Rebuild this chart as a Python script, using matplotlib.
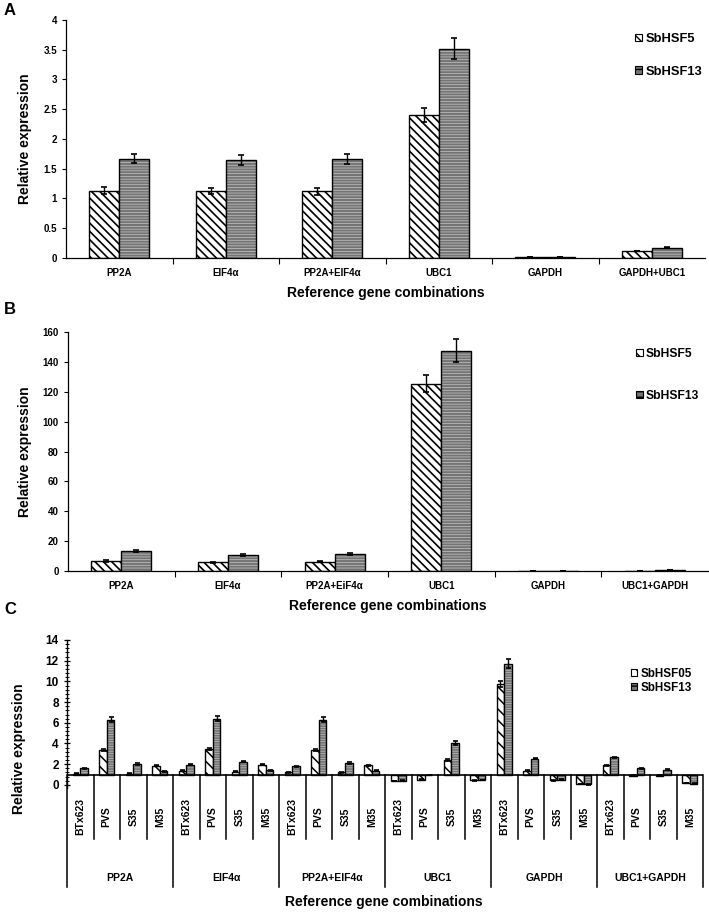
import matplotlib
matplotlib.use("Agg")
import matplotlib.pyplot as plt
import numpy as np
from matplotlib.patches import Patch
from matplotlib.ticker import MultipleLocator, FixedLocator

plt.rcParams['font.family'] = ['Liberation Sans', 'DejaVu Sans']
plt.rcParams['font.weight'] = 'bold'

# ---------------- data ----------------
cats_A = ['PP2A', 'EIF4α', 'PP2A+EIF4α', 'UBC1', 'GAPDH', 'GAPDH+UBC1']
hsf5_A = [1.13, 1.12, 1.12, 2.40, 0.01, 0.12]
hsf5_A_err = [0.06, 0.05, 0.06, 0.12, 0.0, 0.0]
hsf13_A = [1.67, 1.65, 1.66, 3.52, 0.01, 0.17]
hsf13_A_err = [0.08, 0.08, 0.08, 0.18, 0.0, 0.01]

cats_B = ['PP2A', 'EIF4α', 'PP2A+EiF4α', 'UBC1', 'GAPDH', 'UBC1+GAPDH']
hsf5_B = [6.8, 5.8, 6.2, 125.5, 0.3, 0.3]
hsf5_B_err = [0.5, 0.3, 0.3, 6.0, 0.0, 0.0]
hsf13_B = [13.3, 10.8, 11.5, 147.5, 0.3, 0.4]
hsf13_B_err = [0.5, 0.8, 0.8, 7.5, 0.0, 0.0]

groups_C = ['PP2A', 'EIF4α', 'PP2A+EIF4α', 'UBC1', 'GAPDH', 'UBC1+GAPDH']
samples_C = ['BTx623', 'PVS', 'S35', 'M35']
hsf05_C = [1.10, 3.40, 1.10, 1.85,
           1.35, 3.45, 1.25, 1.95,
           1.20, 3.40, 1.20, 1.90,
           0.38, 0.50, 2.40, 0.45,
           9.75, 1.35, 0.45, 0.08,
           1.90, 0.90, 0.90, 0.18]
hsf05_C_err = [0.05, 0.10, 0.05, 0.06,
               0.05, 0.10, 0.05, 0.06,
               0.05, 0.10, 0.05, 0.06,
               0.03, 0.03, 0.08, 0.03,
               0.30, 0.05, 0.03, 0.02,
               0.06, 0.03, 0.03, 0.02]
hsf13_C = [1.60, 6.30, 2.00, 1.30,
           1.95, 6.40, 2.25, 1.40,
           1.80, 6.30, 2.10, 1.35,
           0.40, 0.97, 4.05, 0.48,
           11.70, 2.55, 0.50, 0.05,
           2.65, 1.60, 1.45, 0.12]
hsf13_C_err = [0.06, 0.25, 0.08, 0.05,
               0.06, 0.25, 0.08, 0.05,
               0.06, 0.25, 0.08, 0.05,
               0.03, 0.03, 0.15, 0.03,
               0.45, 0.08, 0.03, 0.02,
               0.08, 0.06, 0.05, 0.02]

GRAY = '#747474'
HLINE = '#c8c8c8'
W, H = 709, 914
fig = plt.figure(figsize=(W / 100, H / 100), dpi=100)


def rect(l, t, r, b):
    return [l / W, 1 - b / H, (r - l) / W, (b - t) / H]


def hatched_bar(ax, x, h, w, bottom=0, hatch='\\\\\\\\', hlw=1.2):
    plt.rcParams['hatch.linewidth'] = hlw
    ax.bar(x, h, w, bottom=bottom, facecolor='white', edgecolor='black',
           hatch=hatch, linewidth=1.0, zorder=2)


def striped_bar(ax, x, h, w, bottom=0, hatch='------', hlw=0.5):
    plt.rcParams['hatch.linewidth'] = hlw
    ax.bar(x, h, w, bottom=bottom, facecolor=GRAY, edgecolor=HLINE,
           hatch=hatch, linewidth=0, zorder=2)
    ax.bar(x, h, w, bottom=bottom, fill=False, edgecolor='black',
           linewidth=1.0, zorder=3)


def legend_handles(labels):
    plt.rcParams['hatch.linewidth'] = 1.0
    h1 = Patch(facecolor='white', edgecolor='black', hatch='\\\\', linewidth=0.8)
    h2 = Patch(facecolor=GRAY, edgecolor='black', hatch='---', linewidth=0.8)
    return [h1, h2], labels


def simple_panel(ax, cats, v5, e5, v13, e13, ymax, step, labels, legpos, legsp, legfs):
    x = np.arange(len(cats))
    bw = 0.28
    hatched_bar(ax, x - bw / 2, v5, bw)
    striped_bar(ax, x + bw / 2, v13, bw)
    ax.errorbar(x - bw / 2, v5, yerr=e5, fmt='none', ecolor='black',
                elinewidth=1.0, capsize=2.5, capthick=1.2, zorder=4)
    ax.errorbar(x + bw / 2, v13, yerr=e13, fmt='none', ecolor='black',
                elinewidth=1.0, capsize=2.5, capthick=1.2, zorder=4)
    ax.set_xlim(-0.5, len(cats) - 0.5)
    ax.set_ylim(0, ymax)
    ax.yaxis.set_major_locator(MultipleLocator(step))
    ax.yaxis.set_major_formatter(lambda v, p: f'{v:g}')
    ax.set_xticks(x)
    ax.set_xticklabels(cats, fontsize=7, fontweight='bold')
    ax.xaxis.set_minor_locator(FixedLocator(np.arange(0.5, len(cats) - 0.5, 1)))
    ax.tick_params(axis='x', which='major', length=0, pad=7)
    ax.tick_params(axis='x', which='minor', length=4, width=0.8, direction='out')
    ax.tick_params(axis='y', labelsize=7, length=3, width=0.8, direction='out')
    for t in ax.get_yticklabels():
        t.set_fontweight('bold')
    ax.spines['top'].set_visible(False)
    ax.spines['right'].set_visible(False)
    ax.spines['left'].set_linewidth(0.9)
    ax.spines['bottom'].set_linewidth(0.9)
    ax.set_ylabel('Relative expression', fontsize=10, fontweight='bold', labelpad=8)
    ax.set_xlabel('Reference gene combinations', fontsize=10, fontweight='bold', labelpad=6)
    hs, ls = legend_handles(labels)
    ax.legend(hs, ls, loc='upper left', bbox_to_anchor=legpos, frameon=False,
              borderaxespad=0, borderpad=0,
              handlelength=0.55, handleheight=0.55, handletextpad=0.25,
              labelspacing=legsp, prop={'size': legfs, 'weight': 'bold'})


# ---------------- Panel A ----------------
axA = fig.add_axes(rect(66, 20, 705, 258))
simple_panel(axA, cats_A, hsf5_A, hsf5_A_err, hsf13_A, hsf13_A_err, 4, 0.5,
             ['SbHSF5', 'SbHSF13'], ((635 - 66) / 639, 1 - (33 - 20) / 238), 1.6, 9.3)

# ---------------- Panel B ----------------
axB = fig.add_axes(rect(68, 332, 708, 571))
simple_panel(axB, cats_B, hsf5_B, hsf5_B_err, hsf13_B, hsf13_B_err, 160, 20,
             ['SbHSF5', 'SbHSF13'], ((636 - 68) / 640, 1 - (348 - 332) / 239), 2.45, 8.7)

# ---------------- Panel C ----------------
axC = fig.add_axes(rect(67, 640, 703, 788))
n = len(groups_C) * len(samples_C)
xc = np.arange(n)
bw = 0.29
h05 = np.array(hsf05_C) - 1
h13 = np.array(hsf13_C) - 1
hatched_bar(axC, xc - bw / 2, h05, bw, bottom=1, hatch='\\\\\\', hlw=1.1)
striped_bar(axC, xc + bw / 2, h13, bw, bottom=1, hatch='-------', hlw=0.45)
axC.errorbar(xc - bw / 2, hsf05_C, yerr=hsf05_C_err, fmt='none', ecolor='black',
             elinewidth=1.0, capsize=1.8, capthick=1.2, zorder=4)
axC.errorbar(xc + bw / 2, hsf13_C, yerr=hsf13_C_err, fmt='none', ecolor='black',
             elinewidth=1.0, capsize=1.8, capthick=1.2, zorder=4)
axC.set_xlim(-0.5, n - 0.5)
axC.set_ylim(-0.3, 14)
axC.yaxis.set_major_locator(MultipleLocator(2))
axC.yaxis.set_minor_locator(MultipleLocator(0.4))
axC.set_xticks([])
axC.tick_params(axis='y', which='major', labelsize=8.5, length=5, width=0.9, direction='inout')
axC.tick_params(axis='y', which='minor', length=2.5, width=0.7, direction='inout')
for t in axC.get_yticklabels():
    t.set_fontweight('bold')
for s in ['top', 'right', 'bottom']:
    axC.spines[s].set_visible(False)
axC.spines['left'].set_linewidth(1.0)
axC.axhline(1, color='black', linewidth=1.2, zorder=5)
# separators
y_short = -5.2
y_long = -9.9
for i in range(n + 1):
    xb = i - 0.5
    yb = y_long if i % 4 == 0 else y_short
    axC.plot([xb, xb], [1, yb], color='black', linewidth=1.1, clip_on=False)
for i in range(n):
    axC.text(i, -3.1, samples_C[i % 4], rotation=90, ha='center', va='center',
             fontsize=7.5, fontweight='bold', clip_on=False)
for g, name in enumerate(groups_C):
    axC.text(g * 4 + 1.5, -9.0, name, ha='center', va='center',
             fontsize=7.5, fontweight='bold', clip_on=False)
fig.text(19 / W, 1 - 749 / H, 'Relative expression', rotation=90, ha='center',
         va='center', fontsize=10, fontweight='bold')
hs, ls = legend_handles(['SbHSF05', 'SbHSF13'])
axC.legend(hs, ls, loc='upper left',
           bbox_to_anchor=((631 - 67) / 636, 1 - (668 - 640) / 148), frameon=False,
           borderaxespad=0, borderpad=0,
           handlelength=0.55, handleheight=0.55, handletextpad=0.25,
           labelspacing=0.15, prop={'size': 8.4, 'weight': 'bold'})
fig.text(384 / W, 1 - 902 / H, 'Reference gene combinations', ha='center', va='center',
         fontsize=10, fontweight='bold')

# panel letters
for letter, ytop in [('A', 3), ('B', 302), ('C', 602)]:
    fig.text(4 / W, 1 - ytop / H, letter, ha='left', va='top', fontsize=12, fontweight='bold')

fig.savefig('out.png', dpi=100)
